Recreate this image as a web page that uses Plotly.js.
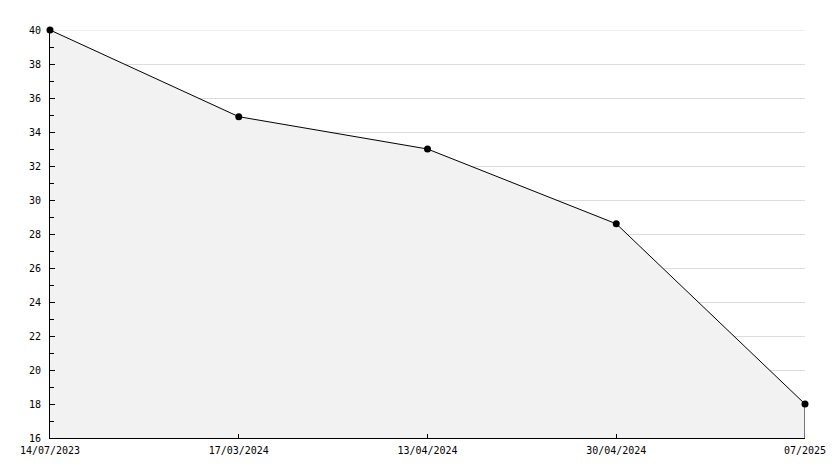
<!DOCTYPE html>
<html>
<head>
<meta charset="utf-8">
<script src="https://cdn.plot.ly/plotly-3.0.1.min.js"></script>
<style>html,body{margin:0;padding:0;background:#fff;}#chart{width:834px;height:468px;}</style>
</head>
<body>
<div id="chart"></div>
<script>
var dates = ["14/07/2023", "17/03/2024", "13/04/2024", "30/04/2024", "07/2025"];
var values = [40, 34.9, 33, 28.6, 18];
var yMin = 16, yMax = 40;

var last = dates.length - 1;
var traces = [
  {
    x: dates, y: values, type: "scatter", mode: "lines+markers",
    fill: "tozeroy", fillcolor: "#f2f2f2",
    line: {color: "#000", width: 1},
    marker: {color: "#000", size: 7, symbol: "circle"},
    hoverinfo: "skip", cliponaxis: false
  },
  {
    x: [dates[last], dates[last]], y: [values[last], yMin], type: "scatter", mode: "lines",
    line: {color: "#000", width: 1}, hoverinfo: "skip"
  }
];

var font = {family: "DejaVu Sans Mono, monospace", size: 10, color: "#000"};
var layout = {
  width: 834, height: 468,
  margin: {l: 50, r: 29, t: 30, b: 30},
  paper_bgcolor: "#fff", plot_bgcolor: "#fff",
  showlegend: false,
  font: font,
  shapes: [{
    type: "line", xref: "paper", yref: "y", x0: 0, x1: 1, y0: yMax, y1: yMax,
    line: {color: "#dddddd", width: 1}, layer: "below"
  }],
  xaxis: {
    type: "category", range: [0, last], showgrid: false, zeroline: false,
    showline: true, linecolor: "#000", linewidth: 1,
    ticks: "inside", ticklen: 4, tickcolor: "#000", tickfont: font,
    ticklabelstandoff: 3,
    fixedrange: true
  },
  yaxis: {
    range: [yMin, yMax], dtick: 2, tick0: 0, showgrid: true, gridcolor: "#dddddd", gridwidth: 1,
    zeroline: false, showline: true, linecolor: "#000", linewidth: 1,
    ticks: "inside", ticklen: 5, tickcolor: "#000", tickfont: font,
    ticklabelstandoff: 6,
    minor: {dtick: 1, ticks: "inside", ticklen: 4, tickcolor: "#000", showgrid: false},
    fixedrange: true
  }
};
Plotly.newPlot("chart", traces, layout, {staticPlot: true, displayModeBar: false});
</script>
</body>
</html>
